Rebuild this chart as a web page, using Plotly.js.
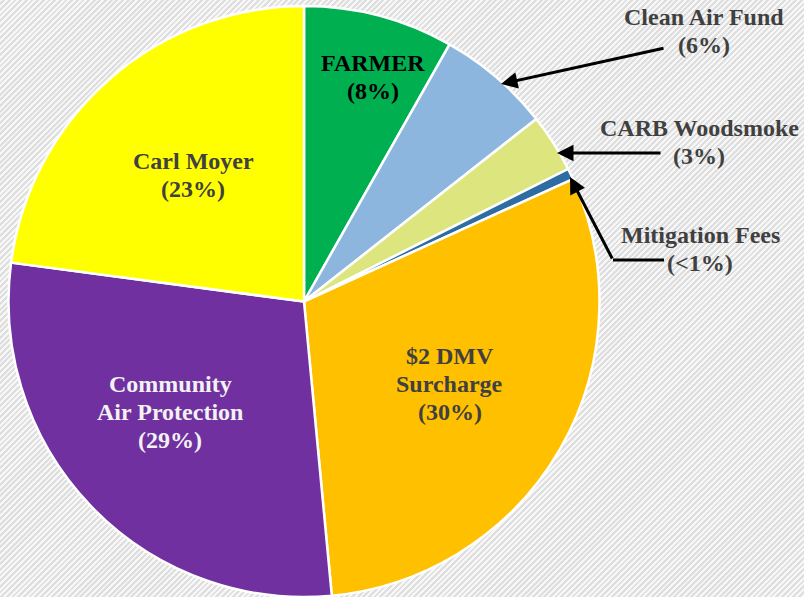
<!DOCTYPE html>
<html>
<head>
<meta charset="utf-8">
<script src="https://cdn.plot.ly/plotly-3.0.1.min.js"></script>
<style>
html, body { margin:0; padding:0; }
body {
  width:804px; height:597px; overflow:hidden;
  background: repeating-linear-gradient(135deg, #f7f7f7 0px, #f7f7f7 2px, #dedede 2px, #dedede 4px);
}
#chart { width:804px; height:597px; }
</style>
</head>
<body>
<div id="chart"></div>
<script>
// Data (clockwise from 12 o'clock)
const categories = ["FARMER", "Clean Air Fund", "CARB Woodsmoke", "Mitigation Fees", "$2 DMV Surcharge", "Community Air Protection", "Carl Moyer"];
const values = [8.2, 6.2, 3.2, 0.6, 30.3, 28.6, 22.9];
const pctLabels = ["(8%)", "(6%)", "(3%)", "(<1%)", "(30%)", "(29%)", "(23%)"];
const labelLines = [
  ["FARMER"], ["Clean Air Fund"], ["CARB Woodsmoke"], ["Mitigation Fees"],
  ["$2 DMV", "Surcharge"], ["Community", "Air Protection"], ["Carl Moyer"]
];
const colors = ["#00B050", "#8DB6DE", "#DDE67E", "#2E6DA4", "#FFC000", "#7030A0", "#FFFF00"];

const W = 804, H = 597;
const px = x => x / W;
const py = y => 1 - y / H;

// label block centers (pixels) and text colors
const labelPos = [[373, 77], [704, 31], [699, 142], [700, 249], [450, 384], [170, 412], [193, 175]];
const labelColors = ["#000000", "#404040", "#404040", "#404040", "#404040", "#F2F2F2", "#404040"];
const font = "Liberation Serif";

const annotations = [];
categories.forEach((c, i) => {
  const lines = labelLines[i].concat([pctLabels[i]]);
  const n = lines.length;
  lines.forEach((t, j) => {
    const y = labelPos[i][1] + (j - (n - 1) / 2) * 28;
    annotations.push({
      x: px(labelPos[i][0]), y: py(y), xref: 'paper', yref: 'paper',
      text: t, showarrow: false, xanchor: 'center', yanchor: 'middle',
      font: { family: font, size: 24, color: labelColors[i], weight: 'bold' }
    });
  });
});

// arrows: [headX, headY, tailX, tailY]
const arrows = [[501, 84, 665, 48], [557, 153, 662, 153], [570, 177, 613, 260]];
arrows.forEach(a => {
  annotations.push({
    x: px(a[0]), y: py(a[1]), xref: 'paper', yref: 'paper',
    ax: px(a[2]), ay: py(a[3]), axref: 'paper', ayref: 'paper',
    text: '', showarrow: true, arrowhead: 2, arrowsize: 1.1, arrowwidth: 3, arrowcolor: '#000000', standoff: 0
  });
});

const shapes = [{
  type: 'line', xref: 'paper', yref: 'paper',
  x0: px(613), y0: py(260), x1: px(664), y1: py(260),
  line: { color: '#000000', width: 3 }
}];

const trace = {
  type: 'pie',
  labels: categories,
  values: values,
  sort: false,
  direction: 'clockwise',
  rotation: 0,
  marker: { colors: colors, line: { color: '#ffffff', width: 2.5 } },
  textinfo: 'none',
  hoverinfo: 'label+percent',
  showlegend: false,
  domain: { x: [px(7), px(601)], y: [py(600), py(6)] }
};

const layout = {
  width: W, height: H,
  margin: { l: 0, r: 0, t: 0, b: 0 },
  font: { family: font },
  paper_bgcolor: 'rgba(0,0,0,0)',
  plot_bgcolor: 'rgba(0,0,0,0)',
  showlegend: false,
  annotations: annotations,
  shapes: shapes
};

Plotly.newPlot('chart', [trace], layout, { displayModeBar: false });
</script>
</body>
</html>
